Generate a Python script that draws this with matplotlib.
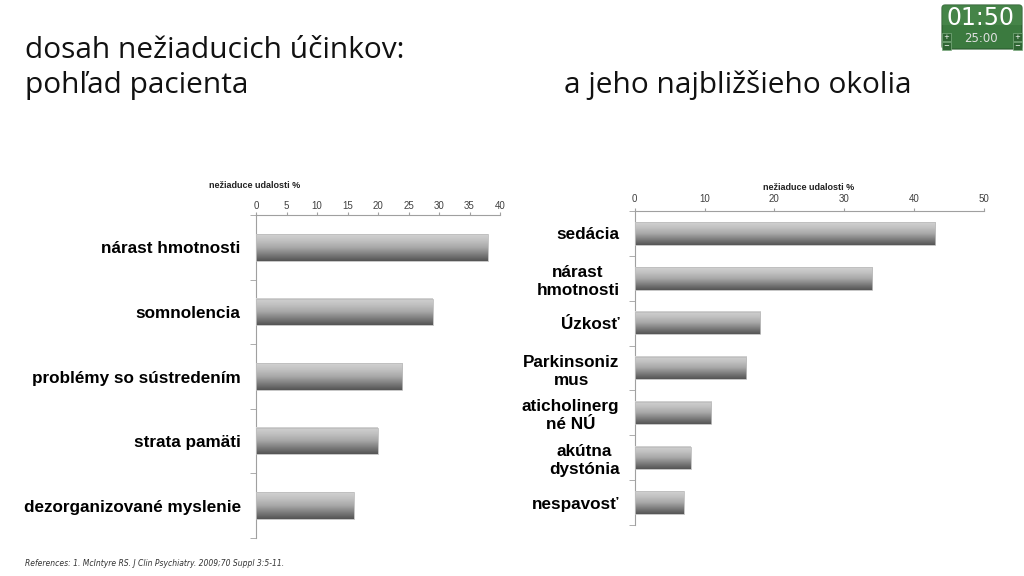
import numpy as np
import matplotlib
matplotlib.use("Agg")
import matplotlib.pyplot as plt
from matplotlib.colors import LinearSegmentedColormap
from matplotlib.patches import FancyBboxPatch, Rectangle

# data
patient_labels = ["nárast hmotnosti", "somnolencia", "problémy so sústredením",
                  "strata pamäti", "dezorganizované myslenie"]
patient_values = [38, 29, 24, 20, 16]
patient_ticks = [0, 5, 10, 15, 20, 25, 30, 35, 40]

family_labels = ["sedácia", "nárast\nhmotnosti", "Úzkosť", "Parkinsoniz\nmus",
                 "aticholinerg\nné NÚ", "akútna\ndystónia", "nespavosť"]
family_values = [43, 34, 18, 16, 11, 8, 7]
family_ticks = [0, 10, 20, 30, 40, 50]

axis_title = "nežiaduce udalosti %"
reference = "References: 1. McIntyre RS. J Clin Psychiatry. 2009;70 Suppl 3:5-11."

W, H = 1024, 576
fig = plt.figure(figsize=(W / 100, H / 100), dpi=100)
fig.patch.set_facecolor("white")

bar_cmap = LinearSegmentedColormap.from_list(
    "bar", ["#d2d2d2", "#c0c0c0", "#a8a8a8", "#7e7e7e", "#555555"])
grad = np.linspace(0, 1, 64).reshape(-1, 1)


def px_axes(x0, y0, x1, y1):
    # axes placed by pixel box (top-left origin)
    return fig.add_axes([x0 / W, 1 - y1 / H, (x1 - x0) / W, (y1 - y0) / H])


def bar_chart(ax, labels, values, ticks, bar_h, tick_pad):
    n = len(labels)
    pos = np.arange(n)
    bars = ax.barh(pos, values, height=bar_h, color="#a0a0a0", zorder=2)
    for b in bars:
        x, y, w, h = b.get_x(), b.get_y(), b.get_width(), b.get_height()
        ax.imshow(grad, cmap=bar_cmap, aspect="auto", origin="upper",
                  extent=(x, x + w, y + h, y), zorder=3)
        ax.add_patch(Rectangle((x, y), w, h, fill=False, ec="#bdbdbd", lw=0.6, zorder=4))
    ax.set_xlim(ticks[0], ticks[-1])
    ax.set_ylim(n - 0.5, -0.5)
    ax.xaxis.tick_top()
    ax.set_xticks(ticks)
    ax.set_xticklabels([str(t) for t in ticks], fontsize=7, color="#404040",
                       family="Liberation Sans")
    ax.tick_params(axis="x", direction="out", length=2.2, color="#a0a0a0", pad=tick_pad)
    ax.set_yticks(pos)
    ax.set_yticklabels(labels, fontsize=12.3, fontweight="bold", family="Liberation Sans",
                       multialignment="center", linespacing=1.25)
    ax.set_yticks(np.arange(n + 1) - 0.5, minor=True)
    ax.tick_params(axis="y", which="major", length=0, pad=11)
    ax.tick_params(axis="y", which="minor", direction="out", length=4, color="#a0a0a0")
    for side in ["right", "bottom"]:
        ax.spines[side].set_visible(False)
    for side in ["left", "top"]:
        ax.spines[side].set_color("#a0a0a0")
        ax.spines[side].set_linewidth(0.8)
    ax.set_facecolor("none")


ax1 = px_axes(256, 215, 500, 538)
bar_chart(ax1, patient_labels, patient_values, patient_ticks, 0.41, 0.6)

ax2 = px_axes(634.7, 211, 983.7, 525)
bar_chart(ax2, family_labels, family_values, family_ticks, 0.5, 2.6)

# overlay in pixel coordinates for slide texts and timer
ov = fig.add_axes([0, 0, 1, 1], zorder=-1)
ov.set_xlim(0, W)
ov.set_ylim(H, 0)
ov.axis("off")

title_font = dict(family=["Open Sans", "DejaVu Sans"], fontsize=21.5, color="#111111",
                  va="baseline")
ov.text(25, 58, "dosah nežiaducich účinkov:", **title_font)
ov.text(25, 93, "pohľad pacienta", **title_font)
ov.text(564, 93, "a jeho najbližšieho okolia", **title_font)

ov.text(255, 185, axis_title, ha="center", va="center", fontsize=6.5,
        fontweight="bold", family="Liberation Sans", color="#222222")
ov.text(809, 188, axis_title, ha="center", va="center", fontsize=6.5,
        fontweight="bold", family="Liberation Sans", color="#222222")

ov.text(25, 563, reference, ha="left", va="center", fontsize=5.5, style="italic",
        family="DejaVu Sans", color="#333333")

# timer widget
ov.add_patch(FancyBboxPatch((942, 5), 80, 44, boxstyle="round,pad=0,rounding_size=3",
                            fc="#3b7a3f", ec="#2a5a2e", lw=0.8))
ov.add_patch(Rectangle((942, 5), 80, 20, fc="#4f8f52", ec="none", alpha=0.5))
ov.text(981, 18, "01:50", ha="center", va="center", fontsize=17, color="white",
        family="DejaVu Sans")
ov.text(981, 39, "25:00", ha="center", va="center", fontsize=8.5, color="#e0e0e0",
        family="DejaVu Sans")
for bx in (942, 1013):
    for by, sym in ((33, "+"), (42, "−")):
        ov.add_patch(Rectangle((bx, by), 9, 8, fc="#2f6533", ec="#7fae82", lw=0.5))
        ov.text(bx + 4.5, by + 4, sym, ha="center", va="center", fontsize=5,
                color="white")

fig.savefig("out.png", dpi=100)
